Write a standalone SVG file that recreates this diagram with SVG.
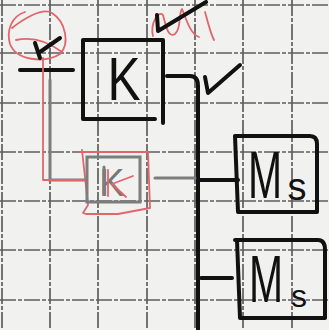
<svg xmlns="http://www.w3.org/2000/svg" width="329" height="330" viewBox="0 0 329 330">
<style>
.grid{stroke:#5e5e5e;stroke-width:1.7;stroke-dasharray:16 2 4 2;fill:none}
.ink{stroke:#111;stroke-width:4;fill:none;stroke-linecap:round;stroke-linejoin:round}
.pencil{stroke:#7d7d7d;stroke-width:3;fill:none;stroke-linecap:round}
.red{stroke:#e0666b;stroke-width:1.8;fill:none;stroke-linecap:round;stroke-linejoin:round}
.lbl{font-family:"Liberation Sans",Arial,sans-serif;fill:#111}
</style>
<rect width="329" height="330" fill="#f1f1f0"/>
<g id="grid">
<path class="grid" d="M2,0V330M50,0V330M98,0V330M147,0V330M195,0V330M243,0V330M292,0V330"/>
<path class="grid" d="M0,5H329M0,53H329M0,103H329M0,152H329M0,201H329M0,250H329M0,300H329"/>
</g>
<g id="connectors">
<path class="ink" d="M20,70H73"/>
<path class="ink" d="M167,76H190Q198,76 198,86V330"/>
<path class="ink" d="M200,180H238"/>
<path class="ink" d="M201,278H232"/>
<path class="pencil" d="M50,80V180H85"/>
<path class="pencil" d="M155,178H195"/>
<path class="red" d="M43,58V180H84"/>
</g>
<g id="marks">
<path class="red" d="M25,12C12,16 6,30 10,44C16,60 44,64 60,54C70,44 66,22 52,13C42,7 22,20 12,28"/>
<path class="red" d="M16,40C30,37 46,40 62,52"/>
<path class="ink" d="M35,43L40,58M40,52L60,38"/>
<path class="red" d="M153,36C150,24 158,10 163,15C166,26 168,38 175,34C182,28 178,14 182,9C186,18 190,34 199,37M205,12C208,22 210,32 214,40"/>
<path class="ink" d="M157,15L158,31L206,2"/>
<path class="ink" d="M205,77L208,93L240,65"/>
</g>
<g id="K">
<path class="ink" d="M84,40H163V123M83,40V119H155"/>
<text class="lbl" x="124" y="100" font-size="62" text-anchor="middle" transform="translate(124,0) scale(0.8,1) translate(-124,0)">K</text>
</g>
<g id="K2">
<path class="red" d="M80,152H148L150,208L118,214H86L83,213L88,205L82,150"/>
<rect x="87" y="157" width="53" height="45" class="pencil"/>
<text x="112" y="196" font-size="38" text-anchor="middle" fill="#777" font-family="Liberation Sans,Arial,sans-serif">K</text>
<path class="pencil" d="M104,167V194"/>
<path class="red" d="M108,170V196M112,184L133,176M112,184L126,197"/>
</g>
<g id="Ms1">
<path class="ink" d="M235,136H310Q317,136 317,144V212H238L235,136"/>
<text class="lbl" x="265" y="198" font-size="66" text-anchor="middle" transform="translate(265,0) scale(0.62,1) translate(-265,0)">M</text>
<text class="lbl" x="297" y="200" font-size="38" text-anchor="middle">s</text>
</g>
<g id="Ms2">
<path class="ink" d="M235,240H318Q325,240 325,250V318H240L237,240"/>
<text class="lbl" x="266" y="302" font-size="66" text-anchor="middle" transform="translate(266,0) scale(0.62,1) translate(-266,0)">M</text>
<text class="lbl" x="299" y="307" font-size="32" text-anchor="middle">s</text>
</g>
</svg>
